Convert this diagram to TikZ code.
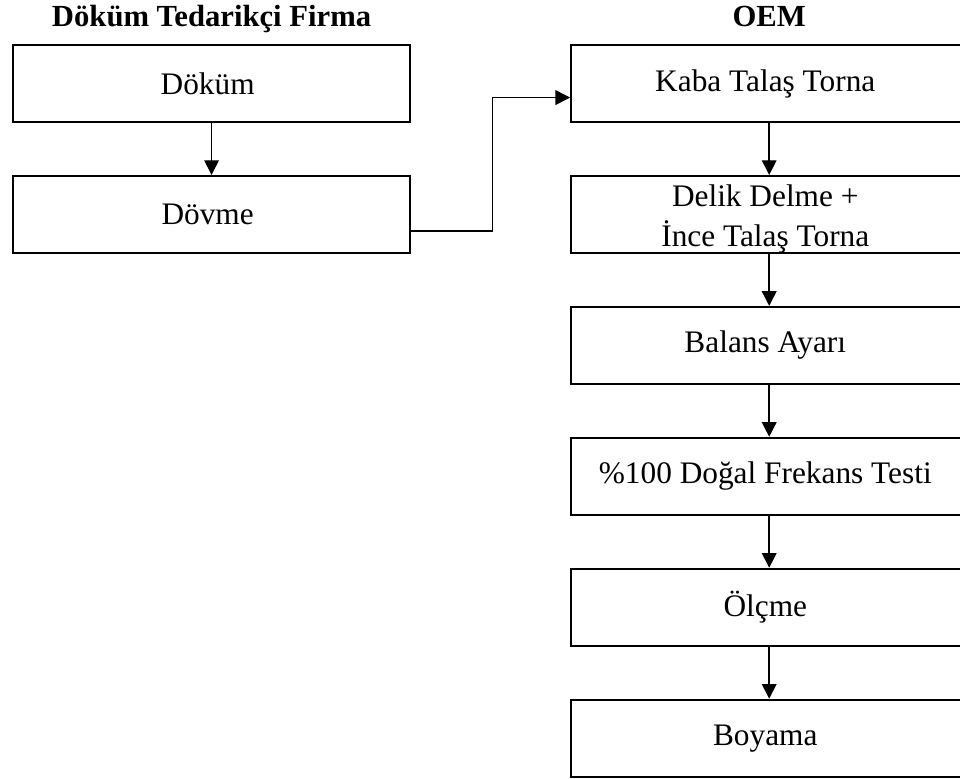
\documentclass[tikz,border=0pt]{standalone}
\usepackage{fontspec}
\setmainfont{Liberation Serif}
\usepackage{tikz}
\usetikzlibrary{matrix,arrows.meta,positioning,calc}

% two centred lines in one cell
\newcommand{\twolines}[2]{\vbox{\halign{\hfil##\hfil\cr #1\cr\noalign{\vskip2pt} #2\cr}\vskip-7pt}}

\tikzset{
  box/.style={draw, line width=1.6pt, minimum height=57.75pt, inner sep=2pt, align=center,
    anchor=center, font=\fontsize{23.5}{28}\selectfont},
  title/.style={font=\fontsize{23}{27}\selectfont\bfseries},
  arr/.style={-{Triangle[length=11pt,width=11pt]}, line width=1.1pt}
}

\begin{document}
\begin{tikzpicture}
\matrix (m) [matrix of nodes, nodes={box}, row sep=38.85pt, column sep=119.25pt,
  column 1/.style={nodes={minimum width=297.75pt}},
  column 2/.style={nodes={minimum width=297pt}}]
{
	Döküm & Kaba Talaş Torna \\
	Dövme & \twolines{Delik Delme +}{İnce Talaş Torna} \\
	      & Balans Ayarı \\
	      & \%100 Doğal Frekans Testi \\
	      & Ölçme \\
	      & Boyama \\
};

\node[title, anchor=base] (firma) at ([yshift=12.75pt]m-1-1.north) {Döküm Tedarikçi Firma};
\node[title, anchor=base] (oem) at ([yshift=12.75pt]m-1-2.north) {OEM};

\path[arr]
(m-1-1) edge (m-2-1)
(m-1-2) edge (m-2-2)
(m-2-2) edge (m-3-2)
(m-3-2) edge (m-4-2)
(m-4-2) edge (m-5-2)
(m-5-2) edge (m-6-2)
;
\draw[arr] ([yshift=-12.4pt]m-2-1.east) -- ++(61pt,0) |- ([yshift=-10.5pt]m-1-2.west);

% page = 960 x 778 px
\pgfresetboundingbox
\useasboundingbox ($(m-1-1.north west)+(-9pt,33pt)$) rectangle ++(720pt,-583.5pt);
\end{tikzpicture}
\end{document}
